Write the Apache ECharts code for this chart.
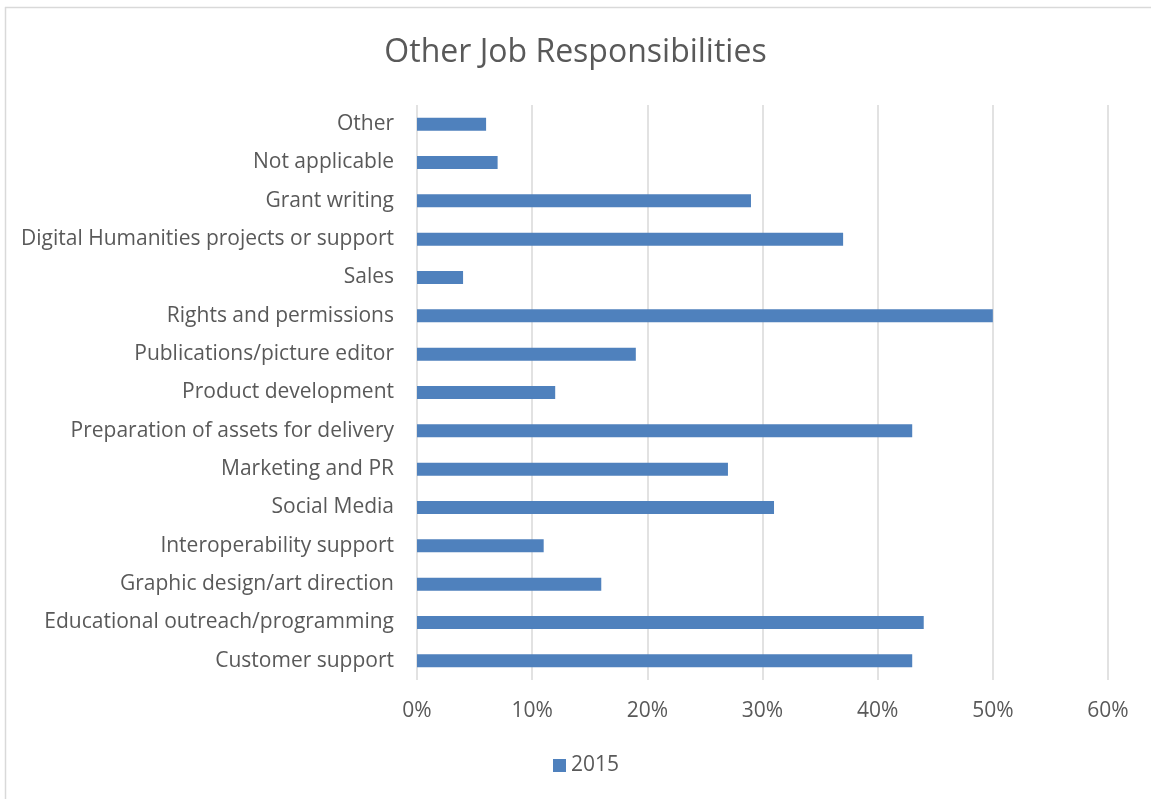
<!DOCTYPE html>
<html>
<head>
<meta charset="utf-8">
<script src="https://cdn.jsdelivr.net/npm/echarts@6/dist/echarts.min.js"></script>
<style>
  html, body { margin: 0; padding: 0; background: #fff; }
  #chart { width: 1151px; height: 799px; }
</style>
</head>
<body>
<div id="chart"></div>
<script>
// Responsibilities, listed bottom to top as drawn on the category axis
const categories = [
  'Customer support',
  'Educational outreach/programming',
  'Graphic design/art direction',
  'Interoperability support',
  'Social Media',
  'Marketing and PR',
  'Preparation of assets for delivery',
  'Product development',
  'Publications/picture editor',
  'Rights and permissions',
  'Sales',
  'Digital Humanities projects or support',
  'Grant writing',
  'Not applicable',
  'Other'
];
// Share of respondents (%) in 2015
const values2015 = [43, 44, 16, 11, 31, 27, 43, 12, 19, 50, 4, 37, 29, 7, 6];
const seriesName = '2015';

const FONT = 'Open Sans';
const TEXT = '#595959';

const chart = echarts.init(document.getElementById('chart'));
chart.setOption({
  backgroundColor: '#fff',
  animation: false,
  title: {
    text: 'Other Job Responsibilities',
    left: 'center',
    top: 32,
    textStyle: { fontFamily: FONT, fontSize: 32, fontWeight: 'normal', color: TEXT }
  },
  legend: {
    data: [seriesName],
    bottom: 18,
    left: 548,
    itemWidth: 13,
    itemHeight: 13,
    itemGap: 6,
    icon: 'rect',
    textStyle: { fontFamily: FONT, fontSize: 21, color: TEXT }
  },
  grid: { left: 417, right: 43, top: 105, bottom: 119, containLabel: false },
  xAxis: {
    type: 'value',
    min: 0,
    max: 60,
    interval: 10,
    axisLine: { show: false },
    axisTick: { show: false },
    axisLabel: {
      formatter: '{value}%',
      margin: 21,
      fontFamily: FONT, fontSize: 21, color: TEXT
    },
    splitLine: { lineStyle: { color: '#d9d9d9', width: 1.5 } }
  },
  yAxis: {
    type: 'category',
    data: categories,
    axisLine: { show: false },
    axisTick: { show: false },
    axisLabel: { margin: 23, fontFamily: FONT, fontSize: 21, color: TEXT, padding: [3, 0, 0, 0] }
  },
  series: [{
    name: seriesName,
    type: 'bar',
    data: values2015,
    barWidth: 13,
    itemStyle: { color: '#4F81BD' }
  }],
  graphic: [
    { type: 'line', shape: { x1: 5.5, y1: 7, x2: 5.5, y2: 799 }, style: { stroke: '#d9d9d9', lineWidth: 1.5 } },
    { type: 'line', shape: { x1: 5, y1: 7.5, x2: 1151, y2: 7.5 }, style: { stroke: '#d9d9d9', lineWidth: 1.5 } }
  ]
});
</script>
</body>
</html>
